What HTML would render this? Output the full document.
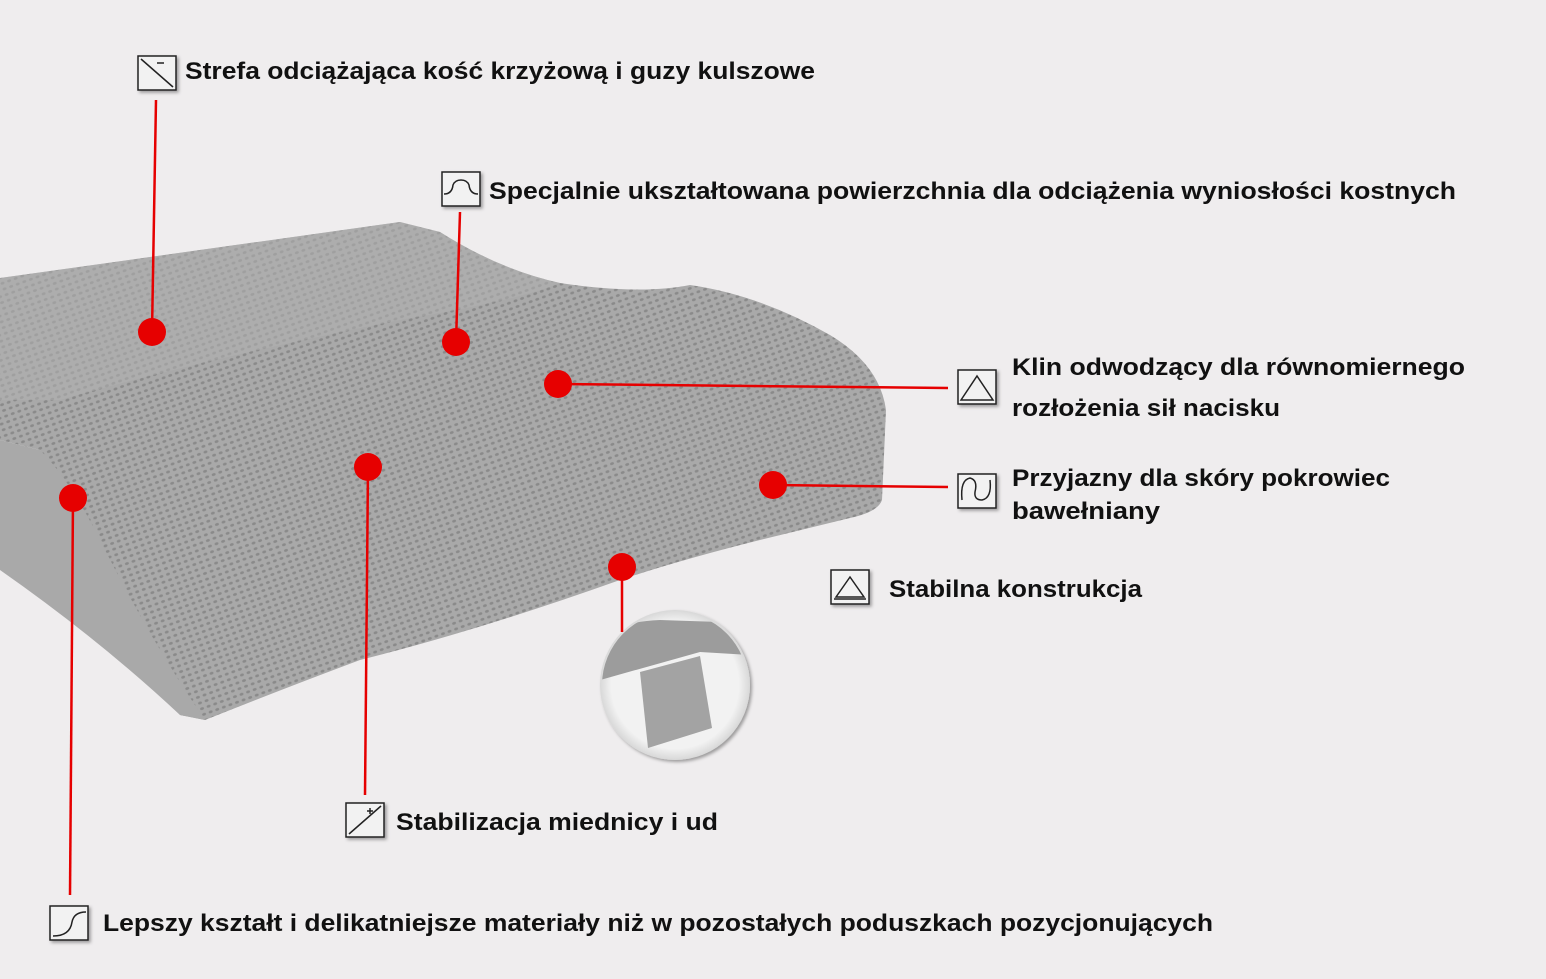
<!DOCTYPE html>
<html><head><meta charset="utf-8"><style>
html,body{margin:0;padding:0;background:#efedee;}
svg{display:block}
text{font-family:"Liberation Sans",sans-serif;font-weight:bold;font-size:24px;fill:#111}
</style></head><body>
<svg width="1546" height="979" viewBox="0 0 1546 979" xmlns="http://www.w3.org/2000/svg">
<defs>
<pattern id="mesh" width="7" height="6" patternUnits="userSpaceOnUse" patternTransform="rotate(-20)">
<rect width="7" height="6" fill="#a9a9a9"/>
<ellipse cx="3.5" cy="3" rx="2" ry="1.4" fill="#8a8a8a"/>
</pattern>
<filter id="sh" x="-20%" y="-20%" width="140%" height="140%"><feDropShadow dx="2" dy="2" stdDeviation="1.5" flood-color="#000" flood-opacity="0.35"/></filter>
<radialGradient id="ins" cx="50%" cy="50%" r="50%"><stop offset="0.85" stop-color="#f2f2f2"/><stop offset="1" stop-color="#d8d8d8"/></radialGradient>
<clipPath id="cc"><circle cx="675" cy="685" r="73"/></clipPath>
</defs>
<rect width="1546" height="979" fill="#efedee"/>
<!-- pillow -->
<path d="M0,278 L400,222 L440,232 Q500,270 560,283 Q640,295 690,285 Q760,295 830,335 Q880,365 886,410 L882,500 Q878,512 850,518 L760,540 Q680,560 620,580 Q480,630 360,660 Q280,690 205,720 L180,715 Q120,620 90,560 L40,450 L0,440 Z" fill="url(#mesh)"/>
<path d="M0,278 L400,222 L440,232 Q500,270 560,283 Q520,300 400,320 Q200,360 60,400 L0,400 Z" fill="#b0b0b0" opacity="0.55"/>
<path d="M0,440 L40,450 Q70,480 100,540 Q150,640 205,720 L180,715 Q100,640 0,570 Z" fill="#a9a9a9"/>
<!-- inset -->
<circle cx="675" cy="685" r="75" fill="url(#ins)" filter="url(#sh)"/>
<g clip-path="url(#cc)">
<path d="M600,640 Q615,622 660,620 L720,622 Q745,630 750,655 L700,652 L600,680 Z" fill="#9c9c9c"/>
<path d="M640,672 L700,656 L712,728 L648,748 Z" fill="#a3a3a3"/>
</g>
<!-- connectors -->
<g stroke="#e60000" stroke-width="2.5" fill="none">
<line x1="152" y1="332" x2="156" y2="100"/>
<line x1="456" y1="342" x2="460" y2="212"/>
<line x1="558" y1="384" x2="948" y2="388"/>
<line x1="773" y1="485" x2="948" y2="487"/>
<line x1="622" y1="567" x2="622" y2="632"/>
<line x1="368" y1="467" x2="365" y2="795"/>
<line x1="73" y1="498" x2="70" y2="895"/>
</g>
<g fill="#e60000">
<ellipse cx="152" cy="332" rx="14" ry="14"/>
<ellipse cx="456" cy="342" rx="14" ry="14"/>
<ellipse cx="558" cy="384" rx="14" ry="14"/>
<ellipse cx="773" cy="485" rx="14" ry="14"/>
<ellipse cx="622" cy="567" rx="14" ry="14"/>
<ellipse cx="368" cy="467" rx="14" ry="14"/>
<ellipse cx="73" cy="498" rx="14" ry="14"/>
</g>
<!-- icons -->
<g fill="#f2f2f2" stroke="#222" stroke-width="1.5" filter="url(#sh)">
<rect x="138" y="56" width="38" height="34"/>
<rect x="442" y="172" width="38" height="34"/>
<rect x="958" y="370" width="38" height="34"/>
<rect x="958" y="474" width="38" height="34"/>
<rect x="831" y="570" width="38" height="34"/>
<rect x="346" y="803" width="38" height="34"/>
<rect x="50" y="906" width="38" height="34"/>
</g>
<g fill="none" stroke="#222" stroke-width="1.5">
<line x1="141" y1="59" x2="173" y2="87"/><line x1="157" y1="63" x2="164" y2="63"/>
<path d="M444,194 Q452,194 453,185 Q455,180 461,180 Q467,180 469,185 Q470,194 478,194"/>
<path d="M961,400 L977,376 L993,400 Z"/>
<path d="M962,500 Q960,480 970,478 Q978,480 975,492 Q974,500 982,500 Q992,498 990,480"/>
<path d="M836,597 L850,577 L864,597 Z"/><line x1="834" y1="599" x2="866" y2="599"/>
<line x1="349" y1="834" x2="381" y2="806"/><line x1="367" y1="811" x2="373" y2="811"/><line x1="370" y1="808" x2="370" y2="814"/>
<path d="M53,936 Q70,936 72,922 Q74,912 86,912"/>
</g>
<!-- text -->
<text x="185" y="79" textLength="630" lengthAdjust="spacingAndGlyphs">Strefa odciążająca kość krzyżową i guzy kulszowe</text>
<text x="489" y="199" textLength="967" lengthAdjust="spacingAndGlyphs">Specjalnie ukształtowana powierzchnia dla odciążenia wyniosłości kostnych</text>
<text x="1012" y="375" textLength="453" lengthAdjust="spacingAndGlyphs">Klin odwodzący dla równomiernego</text>
<text x="1012" y="416" textLength="268" lengthAdjust="spacingAndGlyphs">rozłożenia sił nacisku</text>
<text x="1012" y="486" textLength="378" lengthAdjust="spacingAndGlyphs">Przyjazny dla skóry pokrowiec</text>
<text x="1012" y="519" textLength="148" lengthAdjust="spacingAndGlyphs">bawełniany</text>
<text x="889" y="597" textLength="253" lengthAdjust="spacingAndGlyphs">Stabilna konstrukcja</text>
<text x="396" y="830" textLength="322" lengthAdjust="spacingAndGlyphs">Stabilizacja miednicy i ud</text>
<text x="103" y="931" textLength="1110" lengthAdjust="spacingAndGlyphs">Lepszy kształt i delikatniejsze materiały niż w pozostałych poduszkach pozycjonujących</text>
</svg>
</body></html>
